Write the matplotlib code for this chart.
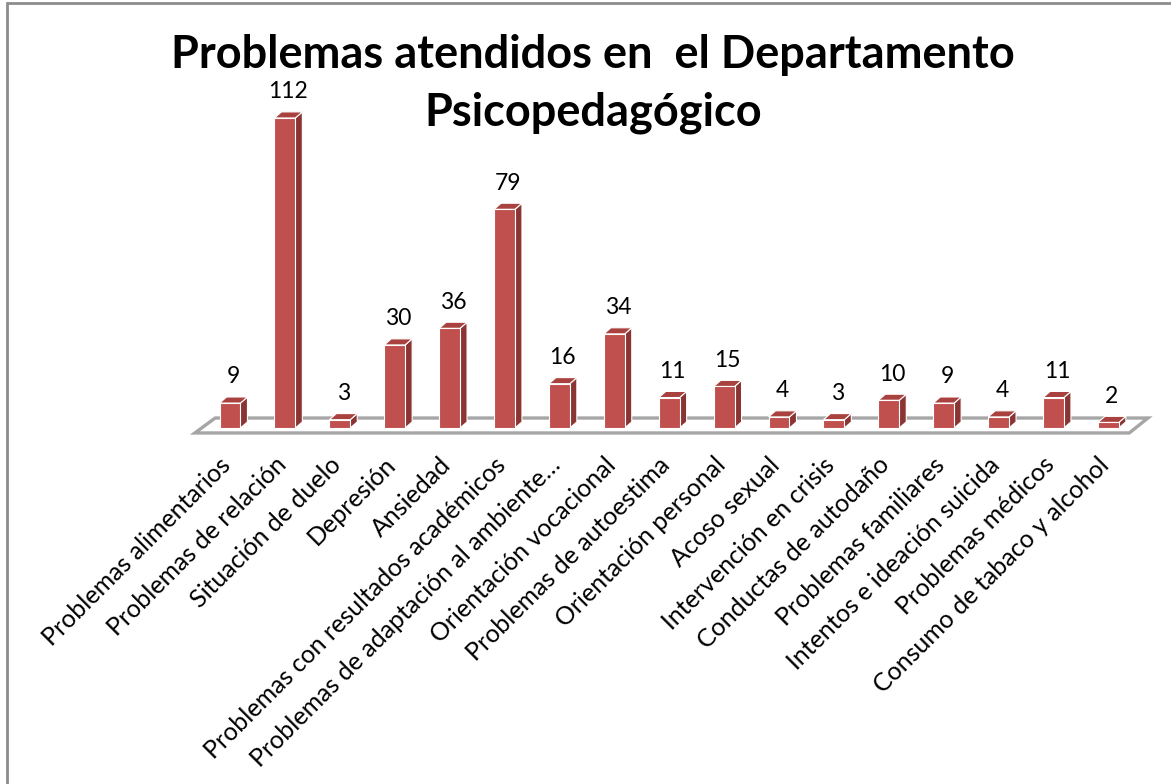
import matplotlib
matplotlib.use("Agg")
import matplotlib.pyplot as plt
from matplotlib.patches import Polygon, Rectangle
import numpy as np

categories = [
    "Problemas alimentarios", "Problemas de relación", "Situación de duelo",
    "Depresión", "Ansiedad", "Problemas con resultados académicos",
    "Problemas de adaptación al ambiente…", "Orientación vocacional",
    "Problemas de autoestima", "Orientación personal", "Acoso sexual",
    "Intervención en crisis", "Conductas de autodaño", "Problemas familiares",
    "Intentos e ideación suicida", "Problemas médicos",
    "Consumo de tabaco y alcohol",
]
values = [9, 112, 3, 30, 36, 79, 16, 34, 11, 15, 4, 3, 10, 9, 4, 11, 2]
title_lines = ["Problemas atendidos en  el Departamento", "Psicopedagógico"]

plt.rcParams['font.family'] = ['Lato', 'DejaVu Sans']

W, H = 1171, 784
fig = plt.figure(figsize=(W / 100, H / 100), dpi=100)
ax = fig.add_axes([175.1 / W, (784 - 461.2) / H, 988.2 / W, 379.2 / H])
ax.set_xlim(-1.0, 17.0)
ax.set_ylim(-12, 125)
ax.axis('off')

front_c = '#C0504D'
side_c = '#8A3533'
top_c = '#A9423F'
bw = 0.38
dx = 0.128
dy = 2.2

# floor
floor = Polygon([(-0.64, -1.8), (16.38, -1.8), (16.72, 3.6), (-0.27, 3.6)],
                closed=True, facecolor='white', edgecolor='#A6A6A6', lw=2.4, zorder=1)
ax.add_patch(floor)

x = np.arange(len(values))
ax.bar(x, values, width=bw, bottom=0, color=front_c, edgecolor='white', lw=0.8, zorder=3)
for xi, v in zip(x, values):
    l, r = xi - bw / 2, xi + bw / 2
    side = Polygon([(r, 0), (r + dx, dy), (r + dx, v + dy), (r, v)], closed=True,
                   facecolor=side_c, edgecolor='white', lw=0.8, zorder=2)
    top = Polygon([(l, v), (r, v), (r + dx, v + dy), (l + dx, v + dy)], closed=True,
                  facecolor=top_c, edgecolor='white', lw=0.8, zorder=2)
    ax.add_patch(side)
    ax.add_patch(top)
    ax.text(xi + dx / 2, v + dy + 3.5, str(v), ha='center', va='bottom',
            fontsize=16.5, color='black', zorder=4)

for xi, lab in zip(x, categories):
    ax.text(xi - 0.05, -12, lab, rotation=45, rotation_mode='anchor',
            ha='right', va='center', fontsize=18, color='black', clip_on=False)

fig.text(593 / W, 1 - 55 / H, title_lines[0], ha='center', va='center', fontsize=32.5,
         fontweight='bold')
fig.text(593 / W, 1 - 113 / H, title_lines[1], ha='center', va='center', fontsize=32.5,
         fontweight='bold')

fig.patches.append(Rectangle((7 / W, -0.1), 1.2, (784 - 3) / H + 0.1,
                             transform=fig.transFigure, fill=False,
                             edgecolor='#8C8C8C', lw=2, figure=fig))

fig.savefig('out.png', dpi=100)
